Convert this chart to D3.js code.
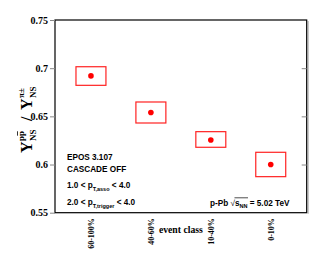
<!DOCTYPE html>
<html>
<head>
<meta charset="utf-8">
<script src="https://cdn.jsdelivr.net/npm/d3@7"></script>
<style>
  body { margin: 0; background: #fff; }
  svg { display: block; }
</style>
</head>
<body>
<svg id="chart" width="315" height="275"></svg>
<script>
// data
const categories = ["60-100%", "40-60%", "10-40%", "0-10%"];
const values = [0.692, 0.654, 0.6255, 0.600];
const sysLow = [0.6822, 0.6431, 0.6179, 0.5874];
const sysHigh = [0.7015, 0.6649, 0.6341, 0.6127];
const yTicks = [0.55, 0.6, 0.65, 0.7, 0.75];
const yTickLabels = ["0.55", "0.6", "0.65", "0.7", "0.75"];

const svg = d3.select("#chart");
const frameL = 55, frameR = 306.7, frameT = 20, frameB = 212.7;
const serif = "'Liberation Serif', 'Times New Roman', serif";
const sans = "'Liberation Sans', Arial, sans-serif";

const x = d3.scalePoint().domain(categories).range([frameL, frameR]).padding(0.6);
const y = d3.scaleLinear().domain([0.55, 0.75]).range([frameB, frameT]);

// shadow on right side
svg.append("line")
    .attr("x1", frameR + 1.5).attr("x2", frameR + 1.5)
    .attr("y1", frameT + 1).attr("y2", frameB + 1)
    .attr("stroke", "#bbb").attr("stroke-width", 1.2);

// frame
svg.append("rect")
    .attr("x", frameL).attr("y", frameT)
    .attr("width", frameR - frameL).attr("height", frameB - frameT)
    .attr("fill", "none").attr("stroke", "#000").attr("stroke-width", 1.2);

// left axis (ticks outside)
const yAxis = svg.append("g")
    .attr("transform", `translate(${frameL},0)`)
    .call(d3.axisLeft(y).tickValues(yTicks).tickSize(5).tickPadding(2)
        .tickFormat((d, i) => yTickLabels[i]));
yAxis.select(".domain").remove();
yAxis.selectAll("line").attr("stroke", "#888");
yAxis.selectAll("text")
    .attr("font-family", serif).attr("font-weight", "bold")
    .attr("font-size", 10).attr("fill", "#000");

// right axis ticks (inside)
const yAxisR = svg.append("g")
    .attr("transform", `translate(${frameR},0)`)
    .call(d3.axisLeft(y).tickValues(yTicks.slice(1, -1)).tickSize(5).tickFormat(""));
yAxisR.select(".domain").remove();
yAxisR.selectAll("line").attr("stroke", "#888");

// category labels
const xAxis = svg.append("g")
    .attr("transform", `translate(0,${frameB})`)
    .call(d3.axisBottom(x).tickSize(0).tickPadding(0));
xAxis.select(".domain").remove();
xAxis.selectAll("text")
    .attr("font-family", serif).attr("font-weight", "bold")
    .attr("font-size", 8).attr("fill", "#000")
    .attr("text-anchor", "end")
    .attr("transform", "translate(2.8,5.5) rotate(-90)")
    .attr("x", 0).attr("y", 0).attr("dy", null);

svg.append("text")
    .attr("x", (frameL + frameR) / 2).attr("y", 233)
    .attr("text-anchor", "middle")
    .attr("font-family", serif).attr("font-weight", "bold").attr("font-size", 9.7)
    .text("event class");

// systematic boxes
const bw = x.step() * 0.5;
svg.append("g").selectAll("rect")
    .data(categories)
    .join("rect")
    .attr("x", d => x(d) - bw / 2)
    .attr("y", (d, i) => y(sysHigh[i]))
    .attr("width", bw)
    .attr("height", (d, i) => y(sysLow[i]) - y(sysHigh[i]))
    .attr("fill", "none").attr("stroke", "#f22").attr("stroke-width", 1.2);

// points
svg.append("g").selectAll("circle")
    .data(categories)
    .join("circle")
    .attr("cx", d => x(d))
    .attr("cy", (d, i) => y(values[i]))
    .attr("r", 2.8)
    .attr("fill", "#f00");

// y title
const yt = svg.append("g")
    .attr("transform", "translate(32,153) rotate(-90)")
    .attr("font-family", serif).attr("font-weight", "bold");
yt.append("text").attr("x", 0).attr("y", 0).attr("font-size", 16).text("Y");
const sup1 = yt.append("text").attr("x", 12).attr("y", -8).attr("font-size", 9).text("pp");
const pW = sup1.node().getSubStringLength(0, 1);
yt.append("line")
    .attr("x1", 12 + pW + 0.3).attr("x2", 12 + 2 * pW - 0.3)
    .attr("y1", -14.5).attr("y2", -14.5)
    .attr("stroke", "#000").attr("stroke-width", 0.8);
yt.append("text").attr("x", 12).attr("y", 4).attr("font-size", 9).text("NS");
yt.append("text").attr("x", 32).attr("y", 0).attr("font-size", 16).text("/");
yt.append("text").attr("x", 43).attr("y", 0).attr("font-size", 16).text("Y");
yt.append("text").attr("x", 55).attr("y", -8).attr("font-size", 9).text("π±");
yt.append("text").attr("x", 55).attr("y", 4).attr("font-size", 9).text("NS");

// annotations
const ann = svg.append("g").attr("font-family", sans).attr("font-weight", "bold").attr("font-size", 8.2);
ann.append("text").attr("x", 67).attr("y", 159.5).text("EPOS 3.107");
ann.append("text").attr("x", 67).attr("y", 172).text("CASCADE OFF");

function ptRange(yy, lo, sub, hi) {
    const t = ann.append("text").attr("x", 67).attr("y", yy);
    t.append("tspan").text(lo + " < p");
    t.append("tspan").attr("font-size", 5.5).attr("dy", 2.5).text(sub);
    t.append("tspan").attr("dy", -2.5).text(" < " + hi);
}
ptRange(188, "1.0", "T,asso", "4.0");
ptRange(205, "2.0", "T,trigger", "4.0");

const en = ann.append("text").attr("x", 210).attr("y", 206);
en.append("tspan").text("p-Pb ");
en.append("tspan").attr("font-weight", "normal").text("\u221A");
en.append("tspan").text("s");
en.append("tspan").attr("font-size", 5.5).attr("dy", 2).text("NN");
en.append("tspan").attr("dy", -2).text(" = 5.02 TeV");
const nnEnd = en.node().getSubStringLength(0, "p-Pb \u221AsNN".length);
const sqEnd = en.node().getSubStringLength(0, "p-Pb \u221A".length);
svg.append("line")
    .attr("x1", 210 + sqEnd - 0.5).attr("x2", 210 + nnEnd + 0.5)
    .attr("y1", 197.8).attr("y2", 197.8)
    .attr("stroke", "#000").attr("stroke-width", 0.7);
</script>
</body>
</html>
